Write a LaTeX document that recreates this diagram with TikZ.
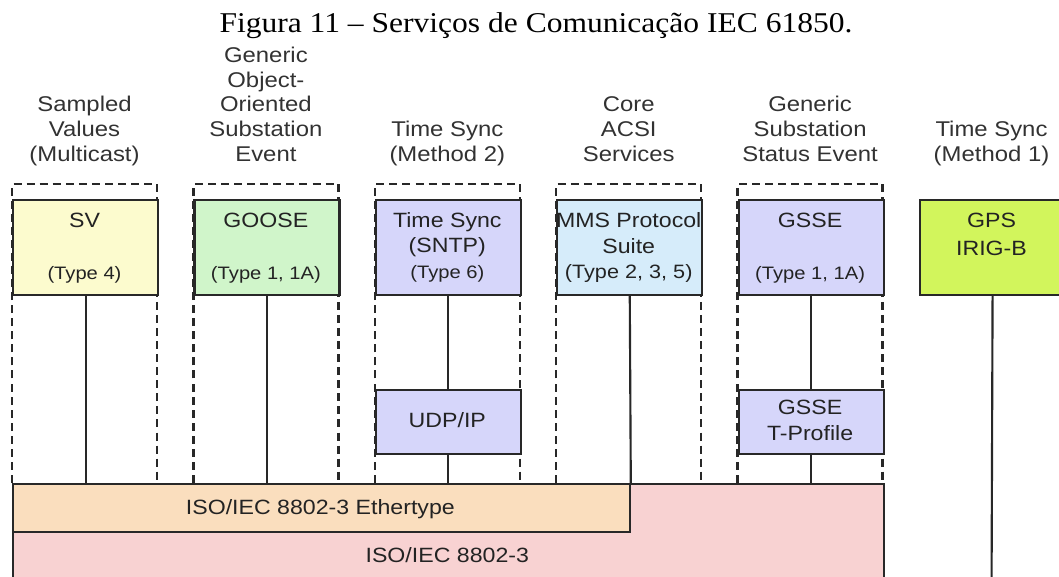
\documentclass[tikz,border=0pt]{standalone}
\usepackage{fontspec}
\setmainfont{Liberation Serif}
\newfontfamily\diagfont[FakeStretch=1.12]{Liberation Sans}
\newfontfamily\titlefont[FakeStretch=1.1]{Liberation Serif}
\definecolor{svc}{RGB}{252,251,206}
\definecolor{goc}{RGB}{208,245,202}
\definecolor{lavc}{RGB}{214,214,250}
\definecolor{mmsc}{RGB}{214,236,250}
\definecolor{gpsc}{RGB}{210,245,92}
\definecolor{ethc}{RGB}{250,222,190}
\definecolor{phyc}{RGB}{248,210,210}
\definecolor{linec}{RGB}{40,40,40}
\definecolor{txtc}{RGB}{35,35,35}
\definecolor{labc}{RGB}{50,50,50}
\begin{document}
\begin{tikzpicture}[x=0.75pt,y=-0.75pt,
  grp/.style={draw=linec, line width=1.7pt, dash pattern=on 6pt off 3.8pt},
  box/.style={draw=linec, line width=1.6pt, minimum width=108.75pt, minimum height=71.25pt, anchor=north west, inner sep=0pt},
  sbox/.style={box, minimum height=48pt},
  bar/.style={draw=linec, line width=1.6pt, anchor=north west, inner sep=0pt},
  conn/.style={draw=linec, line width=1.6pt},
  lab/.style={font=\diagfont\fontsize{16}{18.4}\selectfont, text=labc, align=center, anchor=base, inner sep=0pt},
  txt/.style={font=\diagfont\fontsize{15.5}{18}\selectfont, text=txtc, anchor=base, inner sep=0pt},
  typ/.style={font=\diagfont\fontsize{13.5}{16}\selectfont, text=txtc, anchor=base, inner sep=0pt}
]
\useasboundingbox (0,0) rectangle (1059,576);
\clip (0,0) rectangle (1059,576);

% title
\node[font=\titlefont\fontsize{21.5}{26}\selectfont, anchor=base, inner sep=0pt] (title) at (536,32) {Figura 11 – Serviços de Comunicação IEC 61850.};

% dashed service groups
\foreach \l in {12,193.4,374.8,556.2,737.6}{
  \draw[grp] (\l,483) -- (\l,184) -- (\l+145,184) -- (\l+145,483);
}

% lower layers
\node[bar, fill=phyc, minimum width=652.95pt, minimum height=90pt] (phy) at (12,483) {};
\node[bar, fill=ethc, minimum width=462.5pt, minimum height=36pt] (ether) at (12,483) {};
\node[txt] (ethtxt) at (320.35,514) {ISO/IEC 8802-3 Ethertype};
\node[txt] (phytxt) at (447.3,562) {ISO/IEC 8802-3};

% service boxes
\node[box, fill=svc]  (sv)    at (12,199) {};
\node[box, fill=goc]  (goose) at (193.4,199) {};
\node[box, fill=lavc] (ts)    at (374.8,199) {};
\node[box, fill=mmsc] (mms)   at (556.2,199) {};
\node[box, fill=lavc] (gsse)  at (737.6,199) {};
\node[box, fill=gpsc] (gps)   at (919,199) {};
\node[sbox, fill=lavc] (udp)  at (374.8,389) {};
\node[sbox, fill=lavc] (tprof) at (737.6,389) {};

% box texts
\node[txt] at (84.5,227) {SV};
\node[typ] at (84.5,279) {(Type 4)};
\node[txt] at (265.9,227) {GOOSE};
\node[typ] at (265.9,279) {(Type 1, 1A)};
\node[txt] at (447.3,227) {Time Sync};
\node[txt] at (447.3,252) {(SNTP)};
\node[typ] at (447.3,278) {(Type 6)};
\node[txt] at (628.7,227) {MMS Protocol};
\node[txt] at (628.7,253) {Suite};
\node[typ, font=\diagfont\fontsize{14.5}{16}\selectfont] at (628.7,278) {(Type 2, 3, 5)};
\node[txt] at (810.1,227) {GSSE};
\node[typ] at (810.1,279) {(Type 1, 1A)};
\node[txt] at (991.5,227) {GPS};
\node[txt] at (991.5,255) {IRIG-B};
\node[txt] at (447.3,427) {UDP/IP};
\node[txt] at (810.1,414) {GSSE};
\node[txt] at (810.1,440) {T-Profile};

% labels above (base = last line)
\node[lab] (l1) at (84.5,161) {Sampled\\Values\\(Multicast)};
\node[lab] (l2) at (265.9,161) {Generic\\Object-\\Oriented\\Substation\\Event};
\node[lab] (l3) at (447.3,161) {Time Sync\\(Method 2)};
\node[lab] (l4) at (628.7,161) {Core\\ACSI\\Services};
\node[lab] (l5) at (810.1,161) {Generic\\Substation\\Status Event};
\node[lab] (l6) at (991.5,161) {Time Sync\\(Method 1)};

% connectors
\coordinate (gpsend) at (991.5,600);
\draw[conn] (sv.south) -- (sv.south |- ether.north);
\draw[conn] (goose.south) -- (goose.south |- ether.north);
\draw[conn] (ts.south) -- (udp.north);
\draw[conn] (udp.south) -- (udp.south |- ether.north);
\draw[conn] (mms.south) -- (ether.north east);
\draw[conn] (gsse.south) -- (tprof.north);
\draw[conn] (tprof.south) -- (tprof.south |- phy.north);
\draw[conn] (gps.south) -- (gpsend);
\end{tikzpicture}
\end{document}
